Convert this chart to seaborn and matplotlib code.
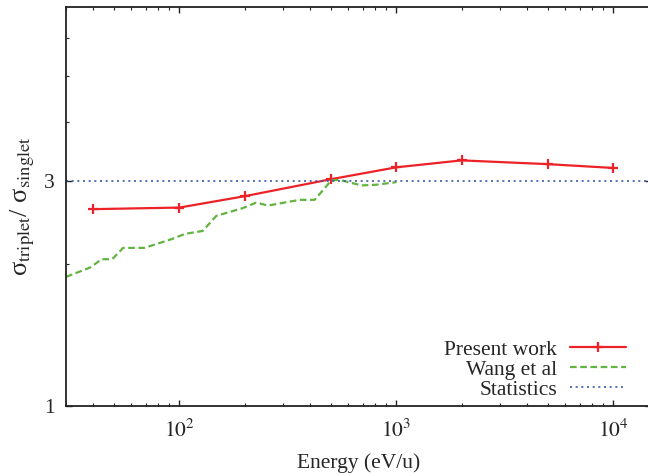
import numpy as np
import pandas as pd
import matplotlib
matplotlib.use("Agg")
import matplotlib.pyplot as plt
from matplotlib.ticker import FixedLocator, NullFormatter, FixedFormatter
import seaborn as sns

# ---- data ----
present_energy = [40, 100, 200, 500, 1000, 2000, 5000, 10000]
present_ratio = [2.61, 2.63, 2.78, 3.02, 3.20, 3.31, 3.25, 3.19]

wang_energy = [30, 39, 43.7, 49, 55, 69, 92, 106, 128, 148, 196, 226, 256,
               358, 420, 502, 548, 690, 810, 1000]
wang_ratio = [1.876, 1.966, 2.045, 2.045, 2.161, 2.161, 2.255, 2.313, 2.347,
              2.526, 2.623, 2.695, 2.656, 2.731, 2.731, 3.003, 3.01, 2.93,
              2.94, 2.977]

statistics_value = 3.0

x_major = [1e2, 1e3, 1e4]
x_major_labels = [r"$10^{2}$", r"$10^{3}$", r"$10^{4}$"]
y_major = [1, 3]
y_major_labels = ["1", "3"]
y_minor = [2, 4, 5, 6]

# ---- style ----
sns.set_theme(style="white")
plt.rcParams["font.family"] = ["Liberation Serif", "DejaVu Serif"]
plt.rcParams["mathtext.fontset"] = "stix"
plt.rcParams["font.size"] = 15.5

RED = "#ec2228"
GREEN = "#62b440"
BLUE = "#3c5aa8"

fig = plt.figure(figsize=(6.48, 4.76), dpi=100)
left = 66 / 648
right = 651.4 / 648
bottom = (476 - 406) / 476
top = (476 - 6.7) / 476
ax = fig.add_axes([left, bottom, right - left, top - bottom])

ax.set_xscale("log")
ax.set_yscale("log")

df_p = pd.DataFrame({"Energy": present_energy, "Ratio": present_ratio})
df_w = pd.DataFrame({"Energy": wang_energy, "Ratio": wang_ratio})

sns.lineplot(data=df_p, x="Energy", y="Ratio", ax=ax, color=RED, lw=1.6,
             marker="+", markersize=6.5, markeredgewidth=1.6,
             markeredgecolor=RED, markerfacecolor=RED,
             label="Present work", sort=False)
sns.lineplot(data=df_w, x="Energy", y="Ratio", ax=ax, color=GREEN, lw=1.6,
             label="Wang et al", sort=False)
ax.lines[-1].set_dashes([3.0, 1.6])
ax.axhline(statistics_value, color=BLUE, lw=1.2, ls=(0, (1.2, 2.2)),
           label="Statistics")

ax.set_xlim(30, 15000)
ax.set_ylim(1, 7)

ax.xaxis.set_major_locator(FixedLocator(x_major))
ax.xaxis.set_major_formatter(FixedFormatter(x_major_labels))
ax.xaxis.set_minor_locator(FixedLocator(
    [m * 10 ** d for d in range(1, 5) for m in range(2, 10)]))
ax.xaxis.set_minor_formatter(NullFormatter())
ax.yaxis.set_major_locator(FixedLocator(y_major))
ax.yaxis.set_major_formatter(FixedFormatter(y_major_labels))
ax.yaxis.set_minor_locator(FixedLocator(y_minor))
ax.yaxis.set_minor_formatter(NullFormatter())

ax.tick_params(which="both", direction="in", top=True, right=True,
               bottom=True, left=True, color="#222222", labelsize=15.5)
ax.tick_params(which="major", length=4.5, width=1.0, pad=8)
ax.tick_params(axis="x", which="major", pad=10)
ax.tick_params(which="minor", length=2.3, width=0.8)
for s in ax.spines.values():
    s.set_color("#222222")
    s.set_linewidth(1.3)

ax.set_xlabel("Energy (eV/u)", fontsize=15.5, labelpad=8)
ax.set_ylabel(r"σ$_{\mathrm{triplet}}$/ σ$_{\mathrm{singlet}}$", fontsize=19,
              labelpad=4)
ax.yaxis.set_label_coords(-0.05, 0.5)

leg = ax.legend(loc="lower right", bbox_to_anchor=(626 / 648, (476 - 400) / 476),
                bbox_transform=fig.transFigure, frameon=False,
                markerfirst=False, handlelength=2.6, handletextpad=0.6,
                labelspacing=0.0, borderpad=0, borderaxespad=0,
                fontsize=15.5, numpoints=1)

fig.savefig("out.png", dpi=100)
